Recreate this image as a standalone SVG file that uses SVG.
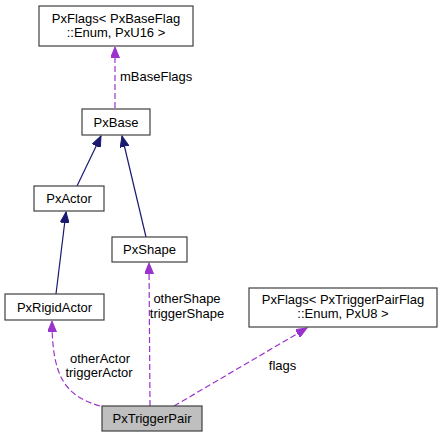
<svg xmlns="http://www.w3.org/2000/svg" width="441" height="437" viewBox="0 0 441 437">
<defs>
<style>
.box{fill:#ffffff;stroke:#404040;stroke-width:1.2}
.cur{fill:#bfbfbf;stroke:#404040;stroke-width:1.2}
text{font-family:"Liberation Sans",Arial,sans-serif;font-size:13px;fill:#000}
.c{text-anchor:middle}
.inh{fill:none;stroke:#191970;stroke-width:1.2}
.use{fill:none;stroke:#9a32cd;stroke-width:1.2;stroke-dasharray:6,3}
</style>
<marker id="an" markerUnits="userSpaceOnUse" markerWidth="12" markerHeight="9" refX="11" refY="4.5" orient="auto"><path d="M0,0 L11,4.5 L0,9 z" fill="#191970" stroke="#191970"/></marker>
<marker id="ap" markerUnits="userSpaceOnUse" markerWidth="12" markerHeight="9" refX="11" refY="4.5" orient="auto"><path d="M0,0 L11,4.5 L0,9 z" fill="#9a32cd" stroke="#9a32cd"/></marker>
</defs>
<g id="connectors">
<path class="use" d="M115,108 L115,47" marker-end="url(#ap)"/>
<path class="inh" d="M77,186 L101,136" marker-end="url(#an)"/>
<path class="inh" d="M146,237 L122,136" marker-end="url(#an)"/>
<path class="inh" d="M56,294 L66,212" marker-end="url(#an)"/>
<path class="use" d="M100,406 C66,396 52,378 52,321" marker-end="url(#ap)"/>
<path class="use" d="M150,406 L149,263" marker-end="url(#ap)"/>
<path class="use" d="M174,406 L307,328" marker-end="url(#ap)"/>
<text x="120" y="81">mBaseFlags</text>
<text class="c" x="187" y="302.5">otherShape</text>
<text class="c" x="187" y="317.5">triggerShape</text>
<text class="c" x="100" y="362.5">otherActor</text>
<text class="c" x="99" y="376.5">triggerActor</text>
<text class="c" x="282.5" y="370">flags</text>
</g>
<g id="PxFlagsBase">
<rect class="box" x="39" y="6" width="154" height="40"/>
<text class="c" x="116" y="22.5">PxFlags&lt; PxBaseFlag</text>
<text class="c" x="116" y="36.5">::Enum, PxU16 &gt;</text>
</g>
<g id="PxBase">
<rect class="box" x="82" y="109" width="68" height="26"/>
<text class="c" x="116" y="126.5">PxBase</text>
</g>
<g id="PxActor">
<rect class="box" x="34" y="186" width="70" height="25"/>
<text class="c" x="69" y="203">PxActor</text>
</g>
<g id="PxShape">
<rect class="box" x="112" y="237" width="75" height="25"/>
<text class="c" x="149.5" y="254">PxShape</text>
</g>
<g id="PxRigidActor">
<rect class="box" x="5" y="294" width="99" height="26"/>
<text class="c" x="54.5" y="311.5">PxRigidActor</text>
</g>
<g id="PxFlagsTrigger">
<rect class="box" x="249" y="288" width="188" height="39"/>
<text class="c" x="343" y="303.5">PxFlags&lt; PxTriggerPairFlag</text>
<text class="c" x="343" y="317.5">::Enum, PxU8 &gt;</text>
</g>
<g id="PxTriggerPair">
<rect class="cur" x="102" y="406" width="100" height="25"/>
<text class="c" x="152" y="423">PxTriggerPair</text>
</g>
</svg>
